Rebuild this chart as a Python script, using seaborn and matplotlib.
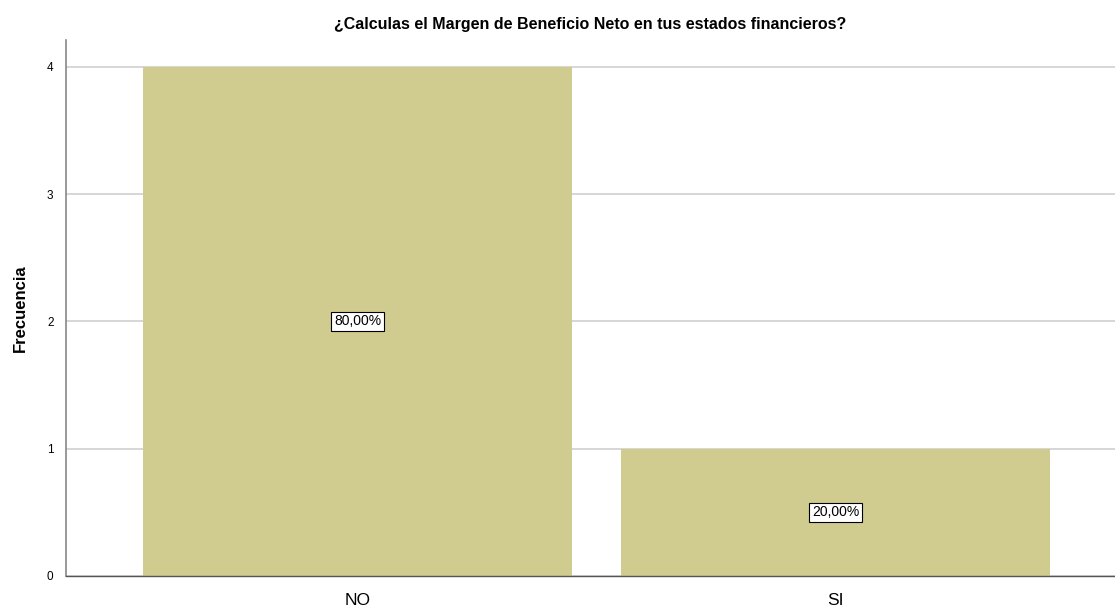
import matplotlib
matplotlib.use("Agg")
import matplotlib.pyplot as plt
import pandas as pd
import seaborn as sns

# Data
categories = ["NO", "SI"]
frecuencia = [4, 1]
porcentajes = ["80,00%", "20,00%"]

df = pd.DataFrame({"respuesta": categories, "frecuencia": frecuencia})

sns.set_style("white")
plt.rcParams["font.family"] = ["Liberation Sans", "DejaVu Sans"]
plt.rcParams["text.color"] = "black"
plt.rcParams["axes.labelcolor"] = "black"
plt.rcParams["xtick.color"] = "black"
plt.rcParams["ytick.color"] = "black"

fig = plt.figure(figsize=(11.15, 6.07), dpi=100)
ax = fig.add_axes([0.0592, 0.0511, 0.9408, 0.8829])

ax.set_axisbelow(True)
ax.yaxis.grid(True, color="#d0d0d0", linewidth=1.2)
sns.barplot(data=df, x="respuesta", y="frecuencia", order=categories,
            color="#d0cb8f", saturation=1, width=0.897, linewidth=0, ax=ax)

for i, (v, lab) in enumerate(zip(frecuencia, porcentajes)):
    ax.text(i, v / 2, lab, ha="center", va="center", fontsize=10,
            bbox=dict(boxstyle="square,pad=0.2", facecolor="white",
                      edgecolor="black", linewidth=0.8))

ax.set_xlim(-0.61, 1.585)
ax.set_ylim(0, 4.21)
ax.set_yticks([0, 1, 2, 3, 4])
ax.tick_params(axis="y", labelsize=8.5, length=4, color="#888888", pad=5)
ax.tick_params(axis="x", labelsize=12.5, length=0, pad=12)
ax.set_xlabel("")
ax.set_ylabel("Frecuencia", fontsize=12, fontweight="bold", labelpad=14)
ax.set_title("¿Calculas el Margen de Beneficio Neto en tus estados financieros?",
             fontsize=11.5, fontweight="bold", pad=8)

for s in ["top", "right"]:
    ax.spines[s].set_visible(False)
ax.spines["left"].set_color("#888888")
ax.spines["bottom"].set_color("#555555")
ax.spines["left"].set_linewidth(1.2)
ax.spines["bottom"].set_linewidth(1.0)

fig.savefig("out.png", dpi=100)
